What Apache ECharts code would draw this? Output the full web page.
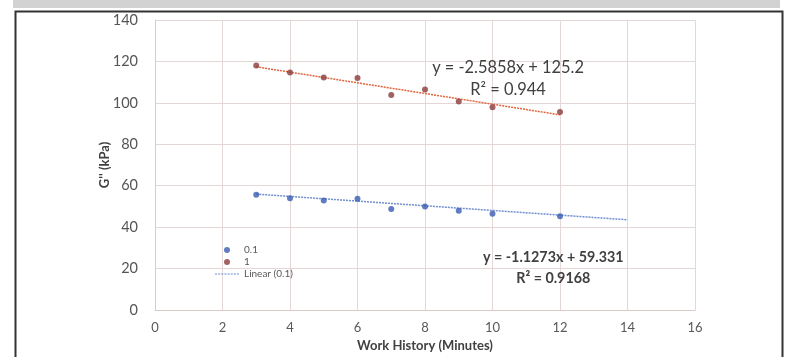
<!DOCTYPE html>
<html><head><meta charset="utf-8">
<script src="https://cdn.jsdelivr.net/npm/echarts@6/dist/echarts.min.js"></script>
<style>html,body{margin:0;padding:0;background:#fff}#c{width:797px;height:357px}</style>
</head><body><div id="c"></div>
<script>
const xTicks = [0, 2, 4, 6, 8, 10, 12, 14, 16];
const minutes = [3, 4, 5, 6, 7, 8, 9, 10, 12];
const g01 = [55.6, 53.9, 52.9, 53.7, 48.8, 50.0, 47.9, 46.5, 45.3];
const g1 = [118.0, 114.6, 112.2, 112.0, 103.8, 106.4, 100.6, 97.9, 95.6];
const trend01 = [[3, 55.95], [14, 43.55]];
const trend1 = [[3, 117.4], [12, 94.2]];
const eq01 = ['y = -1.1273x + 59.331', 'R² = 0.9168'];
const eq1 = ['y = -2.5858x + 125.2', 'R² = 0.944'];

const font = 'Lato, "Open Sans", sans-serif';
const chart = echarts.init(document.getElementById('c'), null, {renderer: 'canvas'});
const pts = (xs, ys) => xs.map((x, i) => [x, ys[i]]);
chart.setOption({
  animation: false,
  textStyle: {fontFamily: font},
  grid: {left: 155, right: 102, top: 20, bottom: 45},
  xAxis: {
    type: 'value', min: 0, max: 16, interval: 2,
    name: 'Work History (Minutes)', nameLocation: 'middle', nameGap: 29,
    nameTextStyle: {fontFamily: font, fontSize: 13, fontWeight: 'bold', color: '#404040'},
    axisLine: {show: true, lineStyle: {color: '#d9cbc8'}},
    axisTick: {show: false},
    axisLabel: {fontFamily: font, fontSize: 13, color: '#595959', margin: 11,
      formatter: v => xTicks.includes(v) ? String(v) : ''},
    splitLine: {show: true, lineStyle: {color: '#e3d8d5', width: 1}}
  },
  yAxis: {
    type: 'value', min: 0, max: 140, interval: 20,
    name: "G'' (kPa)", nameLocation: 'middle', nameGap: 44, nameRotate: 90, nameMoveOverlap: false,
    nameTextStyle: {fontFamily: font, fontSize: 13, fontWeight: 'bold', color: '#404040'},
    axisLine: {show: true, lineStyle: {color: '#d9cbc8'}},
    axisTick: {show: false},
    axisLabel: {fontFamily: font, fontSize: 14.5, color: '#555', margin: 17},
    splitLine: {show: true, lineStyle: {color: '#e3d8d5', width: 1}}
  },
  legend: {
    orient: 'vertical', left: 210, top: 240, itemGap: 2, itemWidth: 24, itemHeight: 6,
    textStyle: {fontFamily: font, fontSize: 10, color: '#595959'},
    data: [
      {name: '0.1', icon: 'circle', itemStyle: {color: '#3a5bb0'}},
      {name: '1', icon: 'circle', itemStyle: {color: '#8c3b3b'}},
      {name: 'Linear (0.1)', icon: 'path://M0,0h2v1h-2zM3,0h2v1h-2zM6,0h2v1h-2zM9,0h2v1h-2zM12,0h2v1h-2zM15,0h2v1h-2zM18,0h2v1h-2zM21,0h2v1h-2z', itemStyle: {color: '#6f8fd0'}}
    ]
  },
  series: [
    {name: 'Linear (0.1)', type: 'line', data: trend01, showSymbol: false, symbol: 'none',
      lineStyle: {color: '#6f8fd0', width: 1.5, type: [2, 1]}, silent: true, z: 1},
    {name: 'Linear (1)', type: 'line', data: trend1, showSymbol: false, symbol: 'none',
      lineStyle: {color: '#e0633a', width: 1.5, type: [2, 1]}, silent: true, z: 1},
    {name: '0.1', type: 'scatter', data: pts(minutes, g01), symbolSize: 6,
      itemStyle: {color: '#3a5bb0'}, z: 3},
    {name: '1', type: 'scatter', data: pts(minutes, g1), symbolSize: 6,
      itemStyle: {color: '#8c3b3b'}, z: 3}
  ]
});
const p1 = chart.convertToPixel({gridIndex: 0}, [10.46, 111.8]);
const p2 = chart.convertToPixel({gridIndex: 0}, [11.8, 20.2]);
chart.setOption({graphic: [
  {type: 'rect', left: 13, top: 0, shape: {width: 767, height: 8}, style: {fill: '#d2d2d2'}, silent: true},
  {type: 'rect', left: 13, top: 9, shape: {width: 767, height: 360}, style: {fill: 'none', stroke: '#333', lineWidth: 2}, silent: true},
  {type: 'text', x: p1[0], y: p1[1], style: {text: eq1[0] + '\n' + eq1[1], font: '16.4px ' + font, fill: '#404040', align: 'center', verticalAlign: 'middle', lineHeight: 22}, silent: true},
  {type: 'text', x: p2[0], y: p2[1], style: {text: eq01[0] + '\n' + eq01[1], font: 'bold 14.3px ' + font, fill: '#404040', align: 'center', verticalAlign: 'middle', lineHeight: 21}, silent: true}
]});
</script></body></html>
